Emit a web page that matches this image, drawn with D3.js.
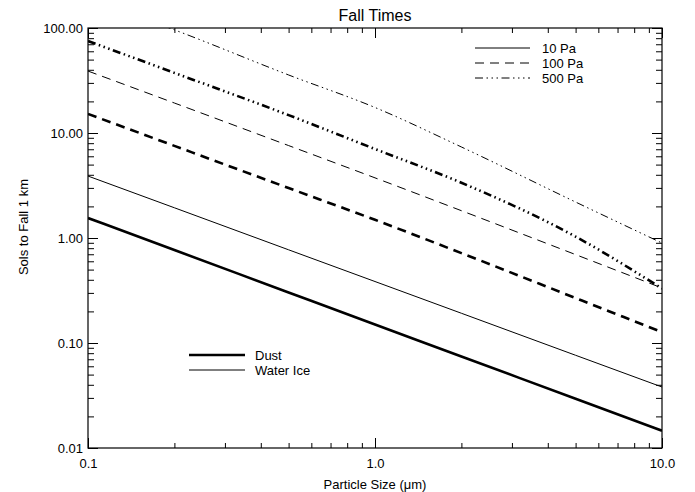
<!DOCTYPE html>
<html>
<head>
<meta charset="utf-8">
<script src="https://cdn.jsdelivr.net/npm/d3@7"></script>
<style>
  body { margin: 0; background: #fff; }
  text { font-family: "Liberation Sans", Arial, Helvetica, sans-serif; fill: #000; }
</style>
</head>
<body>
<div id="chart"></div>
<script>
// particle radius (um)
var sizes = [0.1, 0.2, 0.5, 1, 2, 5, 10];
// sols to fall 1 km
var dust10  = [1.55, 0.768, 0.303, 0.150, 0.0745, 0.0294, 0.0146];
var ice10   = [3.89, 1.94, 0.772, 0.385, 0.192, 0.0764, 0.0381];
var dust100 = [15.2, 7.54, 2.99, 1.49, 0.718, 0.268, 0.127];
var ice100  = [38.9, 19.3, 7.59, 3.74, 1.82, 0.695, 0.334];
var dust500 = [75.2, 37.4, 14.8, 7.04, 3.36, 1.03, 0.33];
var ice500  = [190, 96, 35.7, 17.5, 7.36, 2.20, 0.895];

var xMajor = [0.1, 1, 10];
var xMajorLabels = ['0.1', '1.0', '10.0'];
var yMajor = [0.01, 0.1, 1, 10, 100];
var yMajorLabels = ['0.01', '0.10', '1.00', '10.00', '100.00'];

var pressureNames = ['10 Pa', '100 Pa', '500 Pa'];
var typeNames = ['Dust', 'Water Ice'];

var W = 695, H = 492;
// plot box (note: "top" clashes with window.top, so px* names)
var pxL = 88, pxR = 662, pxT = 28, pxB = 448;

var dashes = ['none', '9,6', '8,3.5,1.5,3.5,1.5,3.5,1.5,3.5'];
var widths = [2.6, 1];

var series = [
  {vals: dust10,  p: 0, t: 0},
  {vals: ice10,   p: 0, t: 1},
  {vals: dust100, p: 1, t: 0},
  {vals: ice100,  p: 1, t: 1},
  {vals: dust500, p: 2, t: 0},
  {vals: ice500,  p: 2, t: 1}
];

var x = d3.scaleLog().domain([0.1, 10]).range([pxL, pxR]);
var y = d3.scaleLog().domain([0.01, 100]).range([pxB, pxT]);

var svg = d3.select('#chart')
  .append('svg')
  .attr('width', W)
  .attr('height', H);

svg.append('defs').append('clipPath')
  .attr('id', 'clip')
  .append('rect')
  .attr('x', pxL).attr('y', pxT)
  .attr('width', pxR - pxL).attr('height', pxB - pxT);

// minor tick values for log axes
function minors(lo, hi) {
  var out = [];
  for (var e = Math.round(Math.log10(lo)); e < Math.round(Math.log10(hi)); e++) {
    for (var k = 2; k <= 9; k++) out.push(k * Math.pow(10, e));
  }
  return out;
}
var xMinor = minors(0.1, 10);
var yMinor = minors(0.01, 100);

function styleAxis(g) {
  g.select('.domain').remove();
  g.selectAll('line').attr('stroke', '#000').attr('stroke-width', 1);
  g.selectAll('text').style('font-size', '13px').attr('fill', '#000');
}

// bottom axis with labels
svg.append('g')
  .attr('transform', 'translate(0,' + pxB + ')')
  .call(d3.axisBottom(x).tickValues(xMajor).tickSize(-10).tickPadding(11)
    .tickFormat(function(d, i) { return xMajorLabels[i]; }))
  .call(styleAxis);
svg.append('g')
  .attr('transform', 'translate(0,' + pxB + ')')
  .call(d3.axisBottom(x).tickValues(xMinor).tickSize(-5).tickFormat(''))
  .call(styleAxis);
// top axis, no labels
svg.append('g')
  .attr('transform', 'translate(0,' + pxT + ')')
  .call(d3.axisTop(x).tickValues(xMajor).tickSize(-10).tickFormat(''))
  .call(styleAxis);
svg.append('g')
  .attr('transform', 'translate(0,' + pxT + ')')
  .call(d3.axisTop(x).tickValues(xMinor).tickSize(-5).tickFormat(''))
  .call(styleAxis);

// left axis with labels
svg.append('g')
  .attr('transform', 'translate(' + pxL + ',0)')
  .call(d3.axisLeft(y).tickValues(yMajor).tickSize(-10).tickPadding(5)
    .tickFormat(function(d, i) { return yMajorLabels[i]; }))
  .call(styleAxis);
svg.append('g')
  .attr('transform', 'translate(' + pxL + ',0)')
  .call(d3.axisLeft(y).tickValues(yMinor).tickSize(-6).tickFormat(''))
  .call(styleAxis);
// right axis
svg.append('g')
  .attr('transform', 'translate(' + pxR + ',0)')
  .call(d3.axisRight(y).tickValues(yMajor).tickSize(-10).tickFormat(''))
  .call(styleAxis);
svg.append('g')
  .attr('transform', 'translate(' + pxR + ',0)')
  .call(d3.axisRight(y).tickValues(yMinor).tickSize(-6).tickFormat(''))
  .call(styleAxis);

// frame
svg.append('rect')
  .attr('x', pxL).attr('y', pxT)
  .attr('width', pxR - pxL).attr('height', pxB - pxT)
  .attr('fill', 'none')
  .attr('stroke', '#000')
  .attr('stroke-width', 1.2);

var line = d3.line()
  .x(function(d) { return x(d[0]); })
  .y(function(d) { return y(d[1]); })
  .curve(d3.curveMonotoneX);

svg.append('g')
  .attr('clip-path', 'url(#clip)')
  .selectAll('path')
  .data(series)
  .enter()
  .append('path')
  .attr('fill', 'none')
  .attr('stroke', '#000')
  .attr('stroke-width', function(d) { return widths[d.t]; })
  .attr('stroke-dasharray', function(d) { return dashes[d.p]; })
  .attr('d', function(d) {
    return line(sizes.map(function(s, i) { return [s, d.vals[i]]; }));
  });

// pressure legend (top right)
var pLeg = svg.append('g');
pressureNames.forEach(function(name, i) {
  var yy = 48 + i * 15;
  pLeg.append('line')
    .attr('x1', 475).attr('x2', 530)
    .attr('y1', yy).attr('y2', yy)
    .attr('stroke', '#000')
    .attr('stroke-width', 1)
    .attr('stroke-dasharray', dashes[i]);
  pLeg.append('text')
    .attr('x', 542).attr('y', yy + 5)
    .style('font-size', '13px')
    .text(name);
});

// particle type legend (bottom left)
var tLeg = svg.append('g');
typeNames.forEach(function(name, i) {
  var yy = 355 + i * 15;
  tLeg.append('line')
    .attr('x1', 189).attr('x2', 245)
    .attr('y1', yy).attr('y2', yy)
    .attr('stroke', '#000')
    .attr('stroke-width', widths[i]);
  tLeg.append('text')
    .attr('x', 255).attr('y', yy + 5)
    .style('font-size', '13px')
    .text(name);
});

// titles
svg.append('text')
  .attr('x', (pxL + pxR) / 2).attr('y', 21)
  .attr('text-anchor', 'middle')
  .style('font-size', '16px')
  .text('Fall Times');

svg.append('text')
  .attr('x', (pxL + pxR) / 2).attr('y', 489)
  .attr('text-anchor', 'middle')
  .style('font-size', '13px')
  .text('Particle Size (μm)');

svg.append('text')
  .attr('transform', 'translate(28,227) rotate(-90)')
  .attr('text-anchor', 'middle')
  .style('font-size', '13px')
  .text('Sols to Fall 1 km');
</script>
</body>
</html>
